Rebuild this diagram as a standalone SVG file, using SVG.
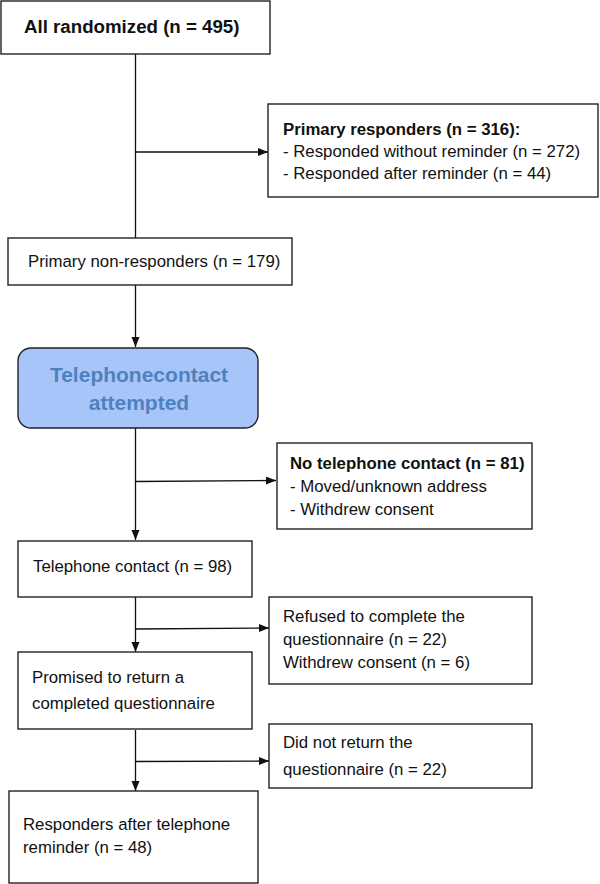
<svg xmlns="http://www.w3.org/2000/svg" width="600" height="884" viewBox="0 0 600 884">
<style>
.box{fill:#fff;stroke:#222;stroke-width:1.4}
.t{font-family:"Liberation Sans",Arial,sans-serif;font-size:16.8px;fill:#111}
.b{font-weight:bold}
.c{fill:none;stroke:#111;stroke-width:1.3}
</style>
<defs>
<marker id="ah" markerUnits="userSpaceOnUse" markerWidth="11" markerHeight="9" refX="10" refY="4" orient="auto">
<path d="M0,0 L10,4 L0,8 z" fill="#111"/>
</marker>
</defs>
<rect width="600" height="884" fill="#fff"/>
<g id="connectors">
<path class="c" d="M135.5,54 V238"/>
<path class="c" d="M135.5,152 H268" marker-end="url(#ah)"/>
<path class="c" d="M135.5,285 V347" marker-end="url(#ah)"/>
<path class="c" d="M135.5,428 V540" marker-end="url(#ah)"/>
<path class="c" d="M135.5,481.5 L276,480.5" marker-end="url(#ah)"/>
<path class="c" d="M135.5,597 V652" marker-end="url(#ah)"/>
<path class="c" d="M135.5,629 L269,628" marker-end="url(#ah)"/>
<path class="c" d="M135.5,730 V791" marker-end="url(#ah)"/>
<path class="c" d="M135.5,761.5 L269,761" marker-end="url(#ah)"/>
</g>
<g id="all-randomized">
<rect class="box" x="1" y="1" width="269" height="53"/>
<text class="t b" x="24" y="33" style="font-size:18.7px">All randomized (n = 495)</text>
</g>
<g id="primary-responders">
<rect class="box" x="268" y="104" width="330" height="93"/>
<text class="t b" x="283" y="135">Primary responders (n = 316):</text>
<text class="t" x="283" y="157">- Responded without reminder (n = 272)</text>
<text class="t" x="283" y="178.5">- Responded after reminder (n = 44)</text>
</g>
<g id="primary-nonresponders">
<rect class="box" x="8" y="238" width="284" height="47"/>
<text class="t" x="28" y="267">Primary non-responders (n = 179)</text>
</g>
<g id="telephone-attempted">
<rect x="18" y="348" width="240" height="80" rx="13" ry="13" fill="#a8c5fa" stroke="#222" stroke-width="1.4"/>
<text class="t b" x="139" y="382" text-anchor="middle" style="font-size:21px;fill:#4f81bd">Telephonecontact</text>
<text class="t b" x="139" y="410" text-anchor="middle" style="font-size:21px;fill:#4f81bd">attempted</text>
</g>
<g id="no-telephone-contact">
<rect class="box" x="277" y="443" width="255" height="86"/>
<text class="t b" x="290" y="469">No telephone contact (n = 81)</text>
<text class="t" x="290" y="492">- Moved/unknown address</text>
<text class="t" x="290" y="515">- Withdrew consent</text>
</g>
<g id="telephone-contact">
<rect class="box" x="18" y="541" width="234" height="56"/>
<text class="t" x="33" y="572">Telephone contact (n = 98)</text>
</g>
<g id="refused">
<rect class="box" x="269" y="597" width="263" height="87"/>
<text class="t" x="283" y="622">Refused to complete the</text>
<text class="t" x="283" y="645">questionnaire (n = 22)</text>
<text class="t" x="283" y="668">Withdrew consent (n = 6)</text>
</g>
<g id="promised">
<rect class="box" x="18" y="652" width="234" height="77"/>
<text class="t" x="32" y="683">Promised to return a</text>
<text class="t" x="32" y="709">completed questionnaire</text>
</g>
<g id="did-not-return">
<rect class="box" x="269" y="724" width="263" height="64"/>
<text class="t" x="283" y="748">Did not return the</text>
<text class="t" x="283" y="775">questionnaire (n = 22)</text>
</g>
<g id="responders-after">
<rect class="box" x="9" y="791" width="249" height="92"/>
<text class="t" x="23" y="830">Responders after telephone</text>
<text class="t" x="23" y="853">reminder (n = 48)</text>
</g>
</svg>
